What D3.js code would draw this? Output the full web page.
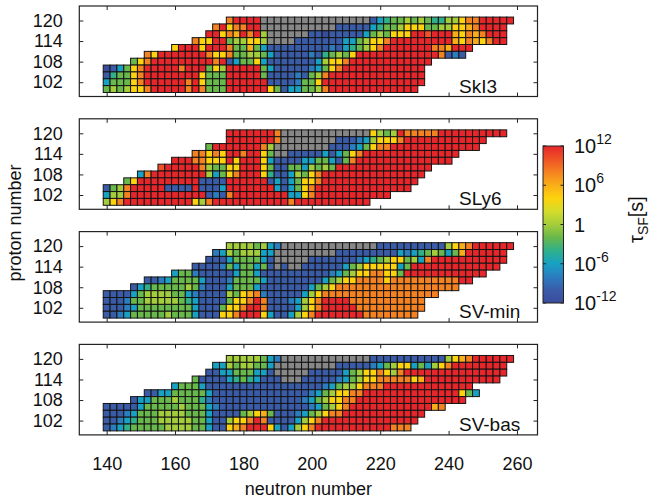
<!DOCTYPE html>
<html>
<head>
<meta charset="utf-8">
<script src="https://cdn.jsdelivr.net/npm/d3@7"></script>
<style>
body { margin: 0; background: #fff; }
text { font-family: "Liberation Sans", Arial, sans-serif; fill: #111; }
</style>
</head>
<body>
<svg id="chart" width="650" height="501"></svg>
<script>
// tick values and labels
const neutronTicks = [140, 160, 180, 200, 220, 240, 260];
const protonTicks = [102, 108, 114, 120];
const protonRows = [120, 118, 116, 114, 112, 110, 108, 106, 104, 102, 100];
const models = ["SkI3", "SLy6", "SV-min", "SV-bas"];
const cbTicks = [12, 6, 0, -6, -12];
const cbLabels = [["10", "12"], ["10", "6"], ["1", ""], ["10", "-6"], ["10", "-12"]];

const codeLog = {"0": -12, "1": -10, "2": -8, "3": -6, "4": -4, "5": -2, "6": 0,
                 "7": 2, "8": 4, "9": 6, "a": 8, "b": 10, "c": 12};

// one string per proton row (Z=120 at top), "firstN:codes", N step 2
const ski3 = [
  "176:accccxxxxxxxxxxxxxxxx13455656544668aaccccc",
  "172:ac8aaccxxxxxxxxxxx11111345568885566889acccc",
  "170:cc8a9cac6xxxxxx110111113565888ccbccc98a9accc",
  "166:a88cc566886xxxx1111111335688accccccccc98a98acc",
  "160:8ccc8ccca559531111111112134568acccccccaa9ccc",
  "152:a8ccccccca88a556653111112145658cccccccccccca121",
  "148:58acccccccccac13558311111113688acccccccccccc",
  "140:01358acccccaccc586ccccc53111112358acccccccccccc",
  "140:14558acccccccc8555ccccc511112156acccccccccccccc",
  "140:35558accccccac8555cccccc11112558ccccccccccccccc",
  "140:565688acccccaca555cccccc85133556accccccccccccc"
];
const sly6 = [
  "176:cccccccaxxxxxxxxxxxxx8656caaaaacccccccccc",
  "176:cccccccaxxxxxxxx111236888acccccccccccc",
  "170:5ccccccca6xxxxxxxx1112358aaccccccccccccc",
  "166:aa8a8ccacc85xx1111131358acccccccccccccc",
  "160:cccaa888c8ccc8311113355315acccccccccccccc",
  "156:bccccca65588ccc85115536565cccccccccccccc",
  "150:3acccccccc6358accc84113658accccccccccccccc",
  "146:58ccccccccc1111cccccc1313588acccccccccccccc",
  "140:156accccc1111c1113ccccccc31358acccccccccccccc",
  "140:366accccccccccc121acccccccc338accccccccccc",
  "140:68acccccccccc86acccccccccccaccccccccccc"
];
const svmin = [
  "176:66665632xxxxxxxxxxxxxx1111111111689acccccc",
  "172:236566633xxxxxxxxx1111111113234565359cccccc",
  "170:1113555531xxxxx11111112345688563accccccccccc",
  "166:111125355351x1xx1111113568888835ccccccccccccc",
  "160:35521111135531111111111235688aa885cccccccccccc",
  "152:1123555531112555531111111135688aaaa8aaaaaaaaaacc",
  "148:134555556521113555311111113568aaaaaaaaaaaaaaaaaa",
  "140:1111356666553211116589a211111368aaaaaaaaaaaaaaaaa",
  "140:111255666665431111588aca1112368accccaaaaaaaaaaa",
  "140:11123555555553111588acca1111368acccccaaaaaaaaaa",
  "140:1123555556555311188accc8311368acccccccaaaaaaaa"
];
const svbas = [
  "176:66666532xxxxxxxxxxxxx11111111111689acccccc",
  "172:336566553xxxxxxxxx1111123568835368acccccccc",
  "170:1133555331xxxxx1111135688a86accccccccccccccc",
  "166:5111134543111xxx11111235688aaaaa89ccccccccccc",
  "160:3555311111111111111111235668aaaccccccccccccc",
  "152:113355555311111111111111235688aacccccccccccccc853",
  "148:1335556555421111111111111235688aacccccccccccccccc",
  "140:11111355555655532111111111111123568acccccccccccc9a",
  "140:111235556666555311115689511123568aacccccccccccc",
  "140:112345556666655311688aca1111368acccccccccccccc",
  "140:12345555566665531189accc831368acccccccccccaaa"
];
const panels = [ski3, sly6, svmin, svbas];

const svg = d3.select("#chart");

const colorStops = [-12, -10, -8, -6, -4, -2, 0, 2, 4, 6, 8, 10, 12];
const colorRange = ["#3b4c9d", "#3a5ca8", "#2b7dc0", "#17a1c3", "#2fb08b", "#68b84b",
                    "#a4cd3b", "#d3dc2a", "#fdd30e", "#f9ae18", "#f58220", "#ef5225", "#e6262a"];
const color = d3.scaleLinear().domain(colorStops).range(colorRange).interpolate(d3.interpolateRgb);

const x = d3.scaleLinear().domain([132, 266]).range([79.3, 537.5]);
const panelTop = [6, 118.8, 231.6, 344.4];
const panelH = 90.5;

function parseRows(rows) {
  const out = [];
  rows.forEach((r, i) => {
    const parts = r.split(":");
    const n0 = +parts[0];
    parts[1].split("").forEach((c, j) => {
      if (c === ".") return;
      out.push({ n: n0 + 2 * j, z: protonRows[i], c: c });
    });
  });
  return out;
}

panels.forEach((rows, p) => {
  const top = panelTop[p];
  const y = d3.scaleLinear().domain([97.83, 124.23]).range([top + panelH, top]);
  const g = svg.append("g");

  g.selectAll("rect.cell")
    .data(parseRows(rows))
    .enter()
    .append("rect")
    .attr("class", "cell")
    .attr("x", d => x(d.n - 1))
    .attr("y", d => y(d.z + 1))
    .attr("width", d => x(d.n + 1) - x(d.n - 1))
    .attr("height", d => y(d.z - 1) - y(d.z + 1))
    .attr("fill", d => d.c === "x" ? "#878787" : color(codeLog[d.c]))
    .attr("stroke", "#141414")
    .attr("stroke-width", 1);

  // frame
  g.append("rect")
    .attr("x", x(132)).attr("y", top)
    .attr("width", x(266) - x(132)).attr("height", panelH)
    .attr("fill", "none").attr("stroke", "#222").attr("stroke-width", 1.2);

  const bottomAxis = d3.axisBottom(x).tickValues(neutronTicks).tickSize(-4).tickPadding(22);
  if (p < 3) bottomAxis.tickFormat("");
  g.append("g").attr("transform", `translate(0,${top + panelH})`).call(bottomAxis);
  g.append("g").attr("transform", `translate(0,${top})`)
    .call(d3.axisTop(x).tickValues(neutronTicks).tickSize(-4).tickFormat(""));
  g.append("g").attr("transform", `translate(${x(132)},0)`)
    .call(d3.axisLeft(y).tickValues(protonTicks).tickSize(-4).tickPadding(16.5));
  g.append("g").attr("transform", `translate(${x(266)},0)`)
    .call(d3.axisRight(y).tickValues(protonTicks).tickSize(-4).tickFormat(""));

  g.append("text")
    .attr("x", 459).attr("y", top + 86.5)
    .attr("font-size", 19)
    .text(models[p]);
});

svg.selectAll(".domain").remove();
svg.selectAll(".tick line").attr("stroke", "#222");
svg.selectAll(".tick text").attr("font-size", 18).attr("fill", "#111")
  .style("font-family", "'Liberation Sans', Arial, sans-serif");

// colorbar
const cbY = d3.scaleLinear().domain([-12, 12]).range([303, 146]);
const defs = svg.append("defs");
const grad = defs.append("linearGradient").attr("id", "cbgrad")
  .attr("x1", 0).attr("y1", 1).attr("x2", 0).attr("y2", 0);
colorStops.forEach(v => {
  grad.append("stop").attr("offset", (v + 12) / 24).attr("stop-color", color(v));
});
svg.append("rect")
  .attr("x", 543).attr("y", cbY(12))
  .attr("width", 20.5).attr("height", cbY(-12) - cbY(12))
  .attr("fill", "url(#cbgrad)").attr("stroke", "#222").attr("stroke-width", 1);
cbTicks.forEach((v, i) => {
  svg.append("line").attr("x1", 543).attr("x2", 546).attr("y1", cbY(v)).attr("y2", cbY(v)).attr("stroke", "#222");
  svg.append("line").attr("x1", 560.5).attr("x2", 563.5).attr("y1", cbY(v)).attr("y2", cbY(v)).attr("stroke", "#222");
  const t = svg.append("text").attr("x", 574).attr("y", cbY(v) + 7).attr("font-size", 20);
  t.append("tspan").text(cbLabels[i][0]);
  if (cbLabels[i][1]) {
    t.append("tspan").attr("dy", -9).attr("font-size", 14).text(cbLabels[i][1]);
  }
});

// colorbar title
const ct = svg.append("text")
  .attr("transform", "translate(643,243) rotate(-90)")
  .attr("font-size", 20);
ct.append("tspan").text("τ");
ct.append("tspan").attr("dy", 5).attr("font-size", 14).text("SF");
ct.append("tspan").attr("dy", -5).text("[s]");

// axis titles
svg.append("text")
  .attr("x", x(199)).attr("y", 495)
  .attr("text-anchor", "middle").attr("font-size", 18)
  .text("neutron number");
svg.append("text")
  .attr("transform", "translate(21,223) rotate(-90)")
  .attr("text-anchor", "middle").attr("font-size", 18)
  .text("proton number");
</script>
</body>
</html>
